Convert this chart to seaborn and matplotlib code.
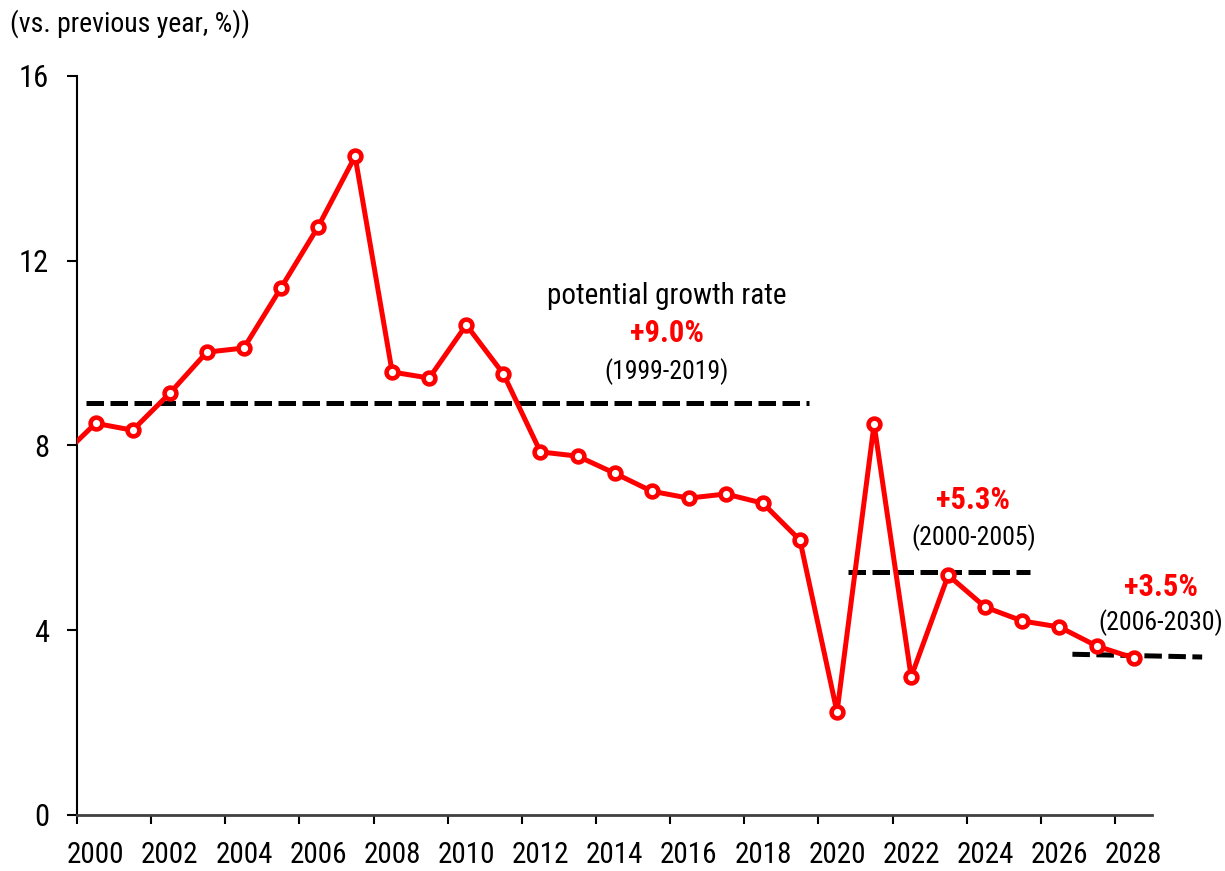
import matplotlib
matplotlib.use("Agg")
import matplotlib.pyplot as plt
import seaborn as sns
import numpy as np

# Données (croissance annuelle, %)
years = np.arange(1999, 2029)
growth = [7.7, 8.48, 8.33, 9.13, 10.02, 10.11, 11.41, 12.73, 14.26, 9.59,
          9.46, 10.61, 9.55, 7.86, 7.77, 7.40, 7.01, 6.86, 6.95, 6.75,
          5.95, 2.23, 8.46, 2.99, 5.19, 4.50, 4.20, 4.07, 3.66, 3.40]

# Moyennes (taux de croissance potentiel) : début, fin, niveau début, niveau fin
avg_start = [2000.24, 2020.8, 2026.85]
avg_end = [2019.75, 2025.7, 2030.35]
avg_level_start = [8.92, 5.26, 3.48]
avg_level_end = [8.92, 5.26, 3.42]
avg_labels = ["+9.0%", "+5.3%", "+3.5%"]
avg_periods = ["(1999-2019)", "(2000-2005)", "(2006-2030)"]

tick_years = list(range(2000, 2029, 2))
y_ticks = [0, 4, 8, 12, 16]

sns.set_style("ticks")
plt.rcParams['font.family'] = ['Roboto Condensed', 'Archivo Narrow', 'Liberation Sans', 'DejaVu Sans']
plt.rcParams['text.color'] = 'black'
plt.rcParams['xtick.color'] = 'black'
plt.rcParams['ytick.color'] = 'black'

fig = plt.figure(figsize=(12.25, 8.71), dpi=100)
ax = fig.add_axes([0.0629, 0.0643, 0.8776, 0.8485])

# Courbe principale : points au milieu de chaque année
sns.lineplot(x=years + 0.5, y=growth, ax=ax, color="#ff0000", linewidth=3.6,
             marker="o", markersize=8.5, markerfacecolor="white",
             markeredgecolor="#ff0000", markeredgewidth=3.3, zorder=3)

# Lignes pointillées des moyennes
for i in range(len(avg_start)):
    ax.plot([avg_start[i], avg_end[i]], [avg_level_start[i], avg_level_end[i]],
            color="black", linewidth=3.6, linestyle=(0, (3.5, 1.3)),
            dash_capstyle="butt", clip_on=False, zorder=2)

# Annotations
ax.text(2015.91, 11.24, "potential growth rate", ha="center", va="center", fontsize=21)
ax.text(2015.91, 10.44, avg_labels[0], ha="center", va="center", fontsize=22,
        color="#ff0000", fontweight="bold")
ax.text(2015.91, 9.61, avg_periods[0], ha="center", va="center", fontsize=18.5)
ax.text(2024.18, 6.82, avg_labels[1], ha="center", va="center", fontsize=22,
        color="#ff0000", fontweight="bold")
ax.text(2024.18, 6.00, avg_periods[1], ha="center", va="center", fontsize=18.5)
ax.text(2029.24, 4.94, avg_labels[2], ha="center", va="center", fontsize=22,
        color="#ff0000", fontweight="bold", clip_on=False)
ax.text(2029.24, 4.16, avg_periods[2], ha="center", va="center", fontsize=18.5,
        clip_on=False)

# Axes
ax.set_xlim(2000, 2029)
ax.set_ylim(0, 16)
ax.set_yticks(y_ticks)
ax.set_yticklabels([str(v) for v in y_ticks], fontsize=22)
ax.tick_params(axis="y", direction="out", length=7, width=1.5, pad=13, color="black")

# Graduations aux années paires, étiquettes centrées sur l'année
ax.set_xticks([y + 0.5 for y in tick_years])
ax.set_xticklabels([str(y) for y in tick_years], fontsize=21)
ax.set_xticks(tick_years, minor=True)
ax.tick_params(axis="x", which="major", length=0, pad=19)
ax.tick_params(axis="x", which="minor", direction="out", length=6.5, width=1.5, color="black")

ax.set_xlabel("")
ax.set_ylabel("")
sns.despine(ax=ax)
ax.spines["left"].set_color("black")
ax.spines["left"].set_linewidth(1.5)
ax.spines["bottom"].set_color("#404040")
ax.spines["bottom"].set_linewidth(2)

fig.text(10 / 1225, 1 - 24 / 871, "(vs. previous year, %))", ha="left", va="center", fontsize=20)

fig.savefig("out.png", dpi=100)
plt.close(fig)
